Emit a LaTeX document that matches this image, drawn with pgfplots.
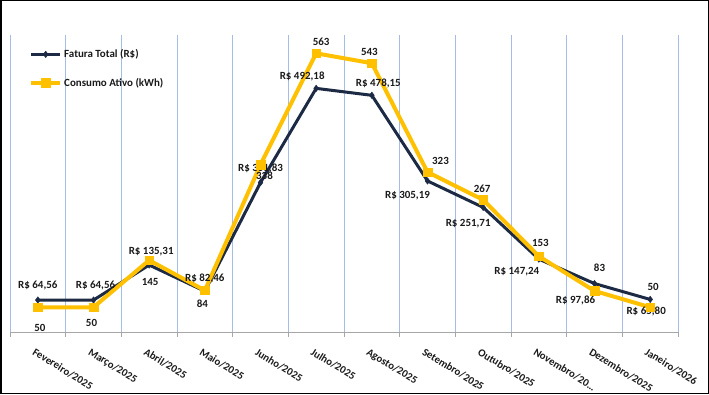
\documentclass[border=0pt]{standalone}
\usepackage{fontspec}
\setmainfont{Carlito}
\usepackage{pgfplots}
\usepackage{pgfplotstable}
\pgfplotsset{compat=1.18}
\definecolor{navy}{HTML}{1C2A44}
\definecolor{gold}{HTML}{FFC000}
\definecolor{gridblue}{HTML}{A4BCE6}
\definecolor{axgray}{HTML}{A6A6A6}
\definecolor{txt}{HTML}{1A1A1A}

\pgfplotstableread[col sep=semicolon]{
x;y;lab;dx;dy
0;64.56;R\$ 64,56;0;15
1;64.56;R\$ 64,56;2;15
2;135.31;R\$ 135,31;2;13.5
3;82.46;R\$ 82,46;0;13
4;301.83;R\$ 301,83;0;14
5;492.18;R\$ 492,18;-14;12
6;478.15;R\$ 478,15;6.5;12
7;305.19;R\$ 305,19;-20;-15
8;251.71;R\$ 251,71;-15;-16
9;147.24;R\$ 147,24;-22;-13
10;97.86;R\$ 97,86;-19;-16.5
11;65.80;R\$ 65,80;-4;-12
}\fatura

\pgfplotstableread[col sep=semicolon]{
x;y;lab;dx;dy
0;50;50;2;-20.5
1;50;50;-2;-16
2;145;145;1;-22
3;84;84;-2.5;-13
4;338;338;4;-11
5;563;563;5;12
6;543;543;-2.5;11.5
7;323;323;13;11
8;267;267;-1;11.5
9;153;153;1.5;13
10;83;83;5;23
11;50;50;3;20
}\consumo

\begin{document}
\begin{tikzpicture}[x=1bp,y=1bp]
\begin{axis}[
  at={(10bp,62bp)}, anchor=south west,
  scale only axis, width=668bp, height=297bp,
  xmin=-0.5, xmax=11.5, ymin=0, ymax=600,
  axis x line=bottom, axis y line=none,
  axis line style={-, draw=axgray, line width=0.8bp},
  xtick={0,1,2,3,4,5,6,7,8,9,10,11},
  xticklabels={Fevereiro/2025,Março/2025,Abril/2025,Maio/2025,Junho/2025,Julho/2025,Agosto/2025,Setembro/2025,Outubro/2025,Novembro/20\ldots,Dezembro/2025,Janeiro/2026},
  major tick length=0pt,
  minor xtick={-0.5,0.5,1.5,2.5,3.5,4.5,5.5,6.5,7.5,8.5,9.5,10.5,11.5},
  minor tick length=5bp,
  tick align=outside,
  minor tick style={draw=axgray, line width=0.8bp},
  minor x grid style={draw=gridblue, line width=0.9bp},
  xminorgrids=true,
  xticklabel style={rotate=-31.5, anchor=north west, xshift=3bp, yshift=-11bp, font=\fontsize{10.8}{12}\selectfont\bfseries, text=txt},
  clip=false,
  legend style={at={(0.024,0.965)}, anchor=north west, draw=none, fill=none,
    font=\fontsize{11}{13}\selectfont\bfseries, text=txt, row sep=15bp,
    cells={inner xsep=1bp}},
  legend cell align=left,
  legend image code/.code={\draw[mark repeat=2,mark phase=2,#1] plot coordinates {(0bp,0bp) (14.5bp,0bp) (29bp,0bp)};},
  nodes near coords,
  point meta=explicit symbolic,
  visualization depends on={\thisrow{dx} \as \dx},
  visualization depends on={\thisrow{dy} \as \dy},
  nodes near coords style={anchor=center, xshift=\dx bp, yshift=\dy bp, font=\fontsize{11}{13}\selectfont\bfseries, text=txt, inner sep=0pt},
]
\addplot[navy, line width=3bp, mark=diamond*, mark size=3.2bp, mark options={fill=navy, line width=0.5bp}] table[x=x, y=y, meta=lab] {\fatura};
\addlegendentry{Fatura Total (R\$)}
\addplot[gold, line width=4bp, mark=square*, mark size=4.3bp, mark options={fill=gold, line width=0.5bp}] table[x=x, y=y, meta=lab] {\consumo};
\addlegendentry{Consumo Ativo (kWh)}
\end{axis}
\draw[black, line width=1.5bp] (0.75,0.75) rectangle (708.25,393.25);
\pgfresetboundingbox
\path[use as bounding box] (0,0) rectangle (709,394);
\end{tikzpicture}
\end{document}
